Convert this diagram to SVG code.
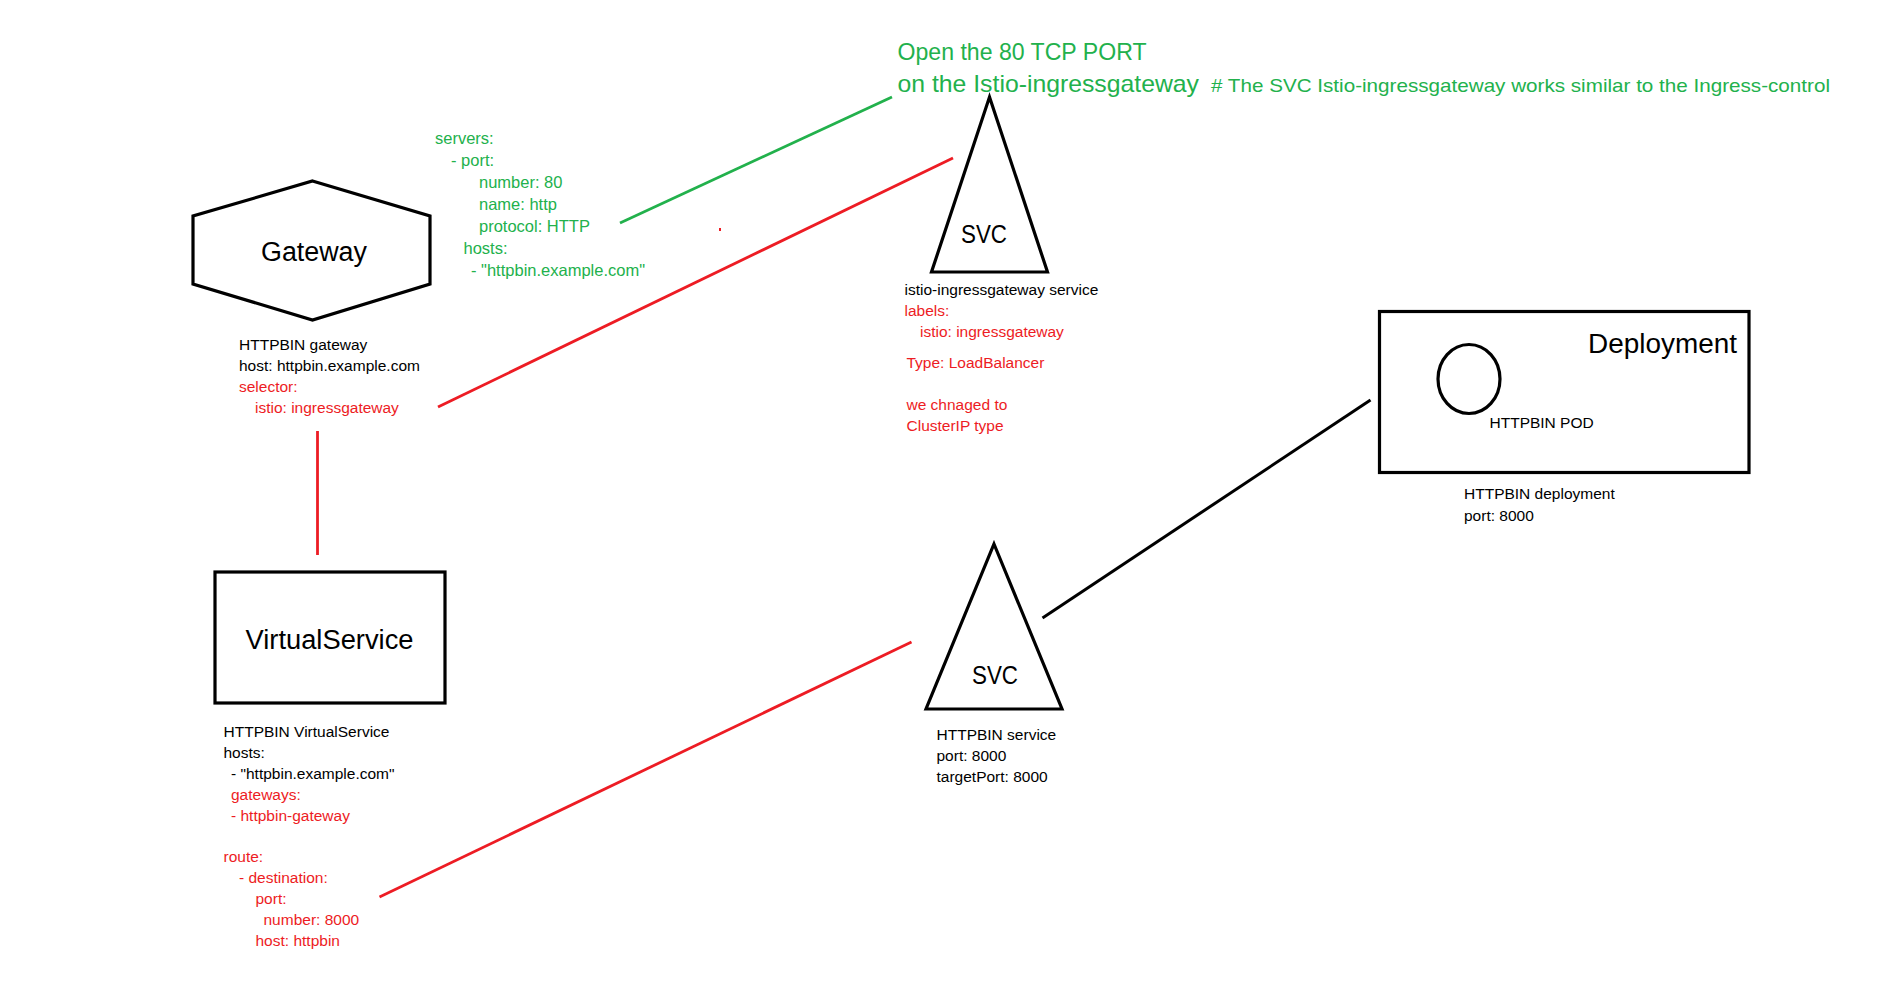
<svg xmlns="http://www.w3.org/2000/svg" width="1888" height="983" viewBox="0 0 1888 983">
<style>
  text { font-family: "Liberation Sans", Arial, sans-serif; }
  .sm { font-size: 15.5px; }
  .gs { font-size: 16.5px; }
  .big { font-size: 27px; }
  .blk { fill: #000000; }
  .grn { fill: #22b14c; }
  .red { fill: #ed1c24; }
  .shape { fill: #ffffff; stroke: #000000; stroke-width: 3.2; stroke-linejoin: miter; }
  .ln-red { stroke: #ed1c24; stroke-width: 2.8; fill: none; }
  .ln-grn { stroke: #22b14c; stroke-width: 2.8; fill: none; }
  .ln-blk { stroke: #000000; stroke-width: 3; fill: none; }
</style>
<rect x="0" y="0" width="1888" height="983" fill="#ffffff"/>

<g id="connectors">
  <line class="ln-grn" x1="620" y1="223" x2="892" y2="97"/>
  <line class="ln-red" x1="438" y1="407" x2="953" y2="158"/>
  <line class="ln-red" x1="317.5" y1="431" x2="317.5" y2="555"/>
  <line class="ln-red" x1="379.5" y1="897" x2="911.5" y2="642"/>
  <line class="ln-blk" x1="1042.5" y1="618" x2="1370.5" y2="400"/>
  <line class="ln-red" x1="719" y1="229.5" x2="721" y2="229.5" stroke-width="1.5"/>
</g>

<g id="title">
  <text class="grn" x="897.5" y="60" font-size="24" textLength="249" lengthAdjust="spacingAndGlyphs">Open the 80 TCP PORT</text>
  <text class="grn" x="897.5" y="92" font-size="24" textLength="301.5" lengthAdjust="spacingAndGlyphs">on the Istio-ingressgateway</text>
  <text class="grn" x="1211" y="92" font-size="19" textLength="619" lengthAdjust="spacingAndGlyphs"># The SVC Istio-ingressgateway works similar to the Ingress-control</text>
</g>

<g id="gateway">
  <polygon class="shape" points="312.5,181 430,216 430,284 312.5,320 193,284 193,216"/>
  <text class="blk big" x="261" y="261" textLength="106" lengthAdjust="spacingAndGlyphs">Gateway</text>
  <text class="grn gs" x="435" y="144">servers:</text>
  <text class="grn gs" x="451" y="166">- port:</text>
  <text class="grn gs" x="479" y="188">number: 80</text>
  <text class="grn gs" x="479" y="210">name: http</text>
  <text class="grn gs" x="479" y="232">protocol: HTTP</text>
  <text class="grn gs" x="463.5" y="254">hosts:</text>
  <text class="grn gs" x="471" y="276">- "httpbin.example.com"</text>
  <text class="blk sm" x="239" y="350">HTTPBIN gateway</text>
  <text class="blk sm" x="239" y="371">host: httpbin.example.com</text>
  <text class="red sm" x="239" y="392">selector:</text>
  <text class="red sm" x="255" y="413">istio: ingressgateway</text>
</g>

<g id="ingress-svc">
  <polygon class="shape" points="989.5,97 1047.5,272 931.5,272"/>
  <text class="blk" x="961" y="243" font-size="26" textLength="46" lengthAdjust="spacingAndGlyphs">SVC</text>
  <text class="blk sm" x="904.5" y="295">istio-ingressgateway service</text>
  <text class="red sm" x="904.5" y="316">labels:</text>
  <text class="red sm" x="920" y="337">istio: ingressgateway</text>
  <text class="red sm" x="906.5" y="368">Type: LoadBalancer</text>
  <text class="red sm" x="906.5" y="410">we chnaged to</text>
  <text class="red sm" x="906.5" y="431">ClusterIP type</text>
</g>

<g id="virtualservice">
  <rect class="shape" x="215" y="572" width="230" height="131"/>
  <text class="blk big" x="245.5" y="649" textLength="168" lengthAdjust="spacingAndGlyphs">VirtualService</text>
  <text class="blk sm" x="223.5" y="737">HTTPBIN VirtualService</text>
  <text class="blk sm" x="223.5" y="758">hosts:</text>
  <text class="blk sm" x="231" y="779">- "httpbin.example.com"</text>
  <text class="red sm" x="231" y="800">gateways:</text>
  <text class="red sm" x="231" y="821">- httpbin-gateway</text>
  <text class="red sm" x="223.5" y="862">route:</text>
  <text class="red sm" x="239" y="883">- destination:</text>
  <text class="red sm" x="255.5" y="904">port:</text>
  <text class="red sm" x="263.5" y="925">number: 8000</text>
  <text class="red sm" x="255.5" y="946">host: httpbin</text>
</g>

<g id="httpbin-svc">
  <polygon class="shape" points="994,544 1062,709 926,709"/>
  <text class="blk" x="972" y="684" font-size="26" textLength="46" lengthAdjust="spacingAndGlyphs">SVC</text>
  <text class="blk sm" x="936.5" y="740">HTTPBIN service</text>
  <text class="blk sm" x="936.5" y="761">port: 8000</text>
  <text class="blk sm" x="936.5" y="782">targetPort: 8000</text>
</g>

<g id="deployment">
  <rect class="shape" x="1379.5" y="311.5" width="369.5" height="161"/>
  <text class="blk big" x="1588" y="353" textLength="149" lengthAdjust="spacingAndGlyphs">Deployment</text>
  <ellipse class="shape" cx="1469" cy="379" rx="31" ry="34.5"/>
  <text class="blk sm" x="1489.5" y="428">HTTPBIN POD</text>
  <text class="blk sm" x="1464" y="499">HTTPBIN deployment</text>
  <text class="blk sm" x="1464" y="521">port: 8000</text>
</g>
</svg>
